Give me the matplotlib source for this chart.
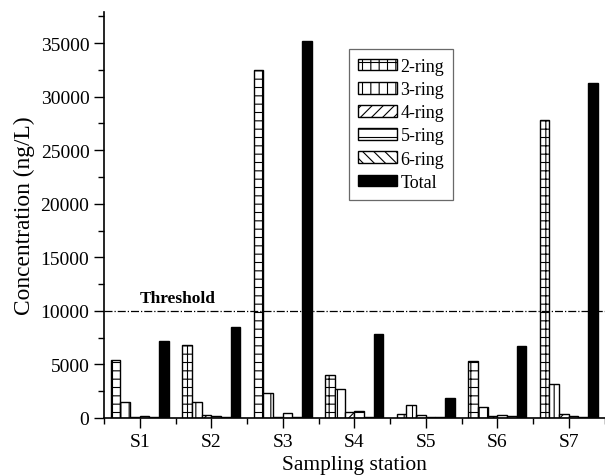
import numpy as np
import matplotlib
matplotlib.use("Agg")
import matplotlib.pyplot as plt
from matplotlib.ticker import MultipleLocator, FixedLocator

# values (ng/L)
stations = ['S1', 'S2', 'S3', 'S4', 'S5', 'S6', 'S7']
ring2 = [5440, 6810, 32500, 4040, 370, 5320, 27800]
ring3 = [1520, 1460, 2330, 2710, 1210, 1060, 3140]
ring4 = [120, 280, 100, 530, 300, 220, 340]
ring5 = [150, 150, 470, 650, 100, 280, 200]
ring6 = [80, 60, 60, 60, 50, 200, 100]
total = [7220, 8470, 35200, 7840, 1840, 6690, 31280]
threshold = 10000

series = [
    ('2-ring', ring2, 'white', '++'),
    ('3-ring', ring3, 'white', '||'),
    ('4-ring', ring4, 'white', '///'),
    ('5-ring', ring5, 'white', '--'),
    ('6-ring', ring6, 'white', '\\\\\\'),
    ('Total', total, 'black', None),
]

plt.rcParams['font.family'] = ['Liberation Serif', 'DejaVu Serif']
plt.rcParams['hatch.linewidth'] = 0.8

fig = plt.figure(figsize=(6.05, 4.77), dpi=100)
ax = fig.add_axes([104 / 605, 1 - 419 / 477, 500.5 / 605, (419 - 13) / 477])

x = np.arange(1, len(stations) + 1)
w = 0.135
for i, (name, vals, fc, hatch) in enumerate(series):
    ax.bar(x + (i - 2.5) * w, vals, w, color=fc, edgecolor='black',
           hatch=hatch, linewidth=1.0, label=name)

ax.axhline(threshold, color='black', linestyle='-.', linewidth=0.9)
ax.text(1.0, threshold + 500, 'Threshold', fontsize=12.5, fontweight='bold',
        ha='left', va='bottom')

ax.set_xlim(0.5, 7.5)
ax.set_ylim(0, 37900)
ax.set_xticks(x)
ax.set_xticklabels(stations)
ax.xaxis.set_minor_locator(FixedLocator(np.arange(0.5, 8, 1)))
ax.yaxis.set_major_locator(MultipleLocator(5000))
ax.yaxis.set_minor_locator(MultipleLocator(2500))
ax.tick_params(which='major', direction='out', length=7, width=1, labelsize=14)
ax.tick_params(which='minor', direction='out', length=4, width=1)

ax.spines['top'].set_visible(False)
ax.spines['right'].set_visible(False)
ax.spines['left'].set_linewidth(1.2)
ax.spines['bottom'].set_linewidth(1.2)

ax.set_xlabel('Sampling station', fontsize=15.5, labelpad=4)
ax.set_ylabel('Concentration (ng/L)', fontsize=16.8, labelpad=4)

leg = ax.legend(loc='upper left', bbox_to_anchor=(349 / 605, 1 - 50 / 477),
                bbox_transform=fig.transFigure, fontsize=13, frameon=True,
                fancybox=False, edgecolor='#444444', handlelength=2.15,
                handleheight=0.6, labelspacing=0.34, handletextpad=0.2,
                borderpad=0.5, borderaxespad=0)
leg.get_frame().set_linewidth(0.9)

fig.savefig('out.png', dpi=100)
